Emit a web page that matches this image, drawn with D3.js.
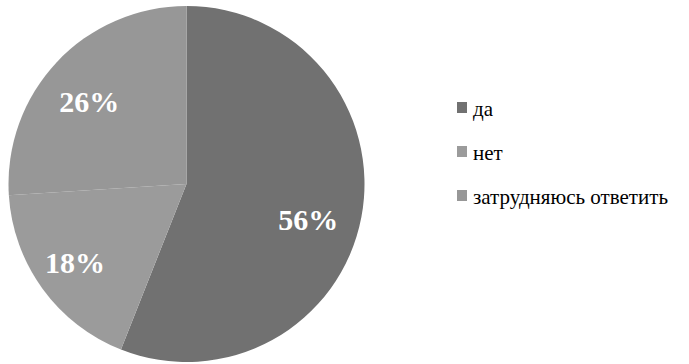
<!DOCTYPE html>
<html>
<head>
<meta charset="utf-8">
<script src="https://cdn.jsdelivr.net/npm/d3@7"></script>
</head>
<body style="margin:0">
<svg id="chart" width="689" height="364" style="font-family: 'Liberation Serif'"></svg>
<script>
// Survey answers and their shares (percent)
const categories = ["да", "нет", "затрудняюсь ответить"];
const shares = [56, 18, 26];
const colors = ["#717171", "#9b9b9b", "#979797"];
// small per-label nudges (px) away from the arc centroid
const labelNudge = [[-4, 12], [-8, 4], [-4, 6]];

const cx = 186.5, cy = 184, radius = 178;

const svg = d3.select("#chart");
const g = svg.append("g").attr("transform", `translate(${cx},${cy})`);

const data = categories.map((c, i) => ({ category: c, value: shares[i], i }));

const pie = d3.pie().value(d => d.value).sort(null);
const arc = d3.arc().innerRadius(0).outerRadius(radius);
const labelArc = d3.arc().innerRadius(128).outerRadius(128);

const arcs = pie(data);

g.selectAll("path")
  .data(arcs)
  .join("path")
  .attr("d", arc)
  .attr("fill", d => colors[d.data.i]);

// percentage labels on the slices
svg.selectAll("text.pct")
  .data(arcs)
  .join("text")
  .attr("class", "pct")
  .attr("x", d => cx + labelArc.centroid(d)[0] + labelNudge[d.data.i][0])
  .attr("y", d => cy + labelArc.centroid(d)[1] + labelNudge[d.data.i][1] + 10)
  .attr("text-anchor", "middle")
  .attr("fill", "#ffffff")
  .style("font-family", d => '"Liberation Serif"')
  .style("font-weight", "bold")
  .attr("font-size", 30)
  .text(d => d.data.value + "%");

// Legend
const rowStep = 44;
svg.selectAll("rect.key")
  .data(data)
  .join("rect")
  .attr("class", "key")
  .attr("x", 457)
  .attr("y", d => 102 + d.i * rowStep)
  .attr("width", 10)
  .attr("height", 11)
  .attr("fill", d => colors[d.i]);

svg.selectAll("text.lab")
  .data(data)
  .join("text")
  .attr("class", "lab")
  .attr("x", 473)
  .attr("y", d => 116 + d.i * rowStep)
  .attr("fill", "#000")
  .style("font-family", d => '"Liberation Serif"')
  .attr("font-size", 21)
  .text(d => d.category);
</script>
</body>
</html>
